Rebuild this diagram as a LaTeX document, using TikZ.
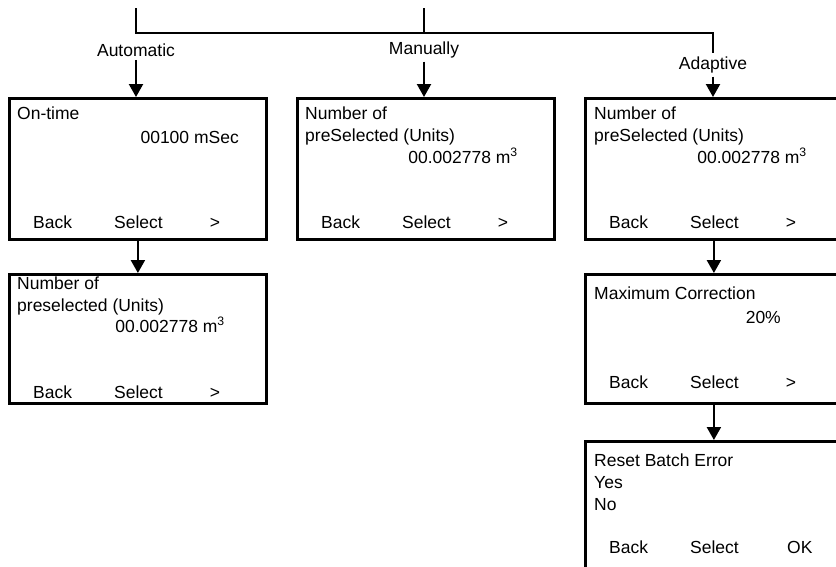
\documentclass[tikz,border=0pt]{standalone}
\usepackage{fontspec}
\setmainfont{Liberation Sans}
\usepackage{tikz}
\usetikzlibrary{arrows.meta, positioning}
\tikzset{
  %% -- display screen (full height) --
  menu/box/.style={
    draw, line width=2.8pt, anchor=north west, inner sep=0pt,
    minimum width=257pt, minimum height=141pt
  },
  %% -- display screen (short) --
  menu/short/.style={menu/box, minimum height=129pt},
  %% -- screen text, left aligned --
  menu/txt/.style={inner sep=0pt, text height=12.5pt, text depth=0pt, anchor=west},
  %% -- screen value, right aligned --
  menu/val/.style={menu/txt, anchor=east},
  %% -- soft key, centred --
  menu/key/.style={menu/txt, anchor=center},
  %% -- branch label --
  menu/lbl/.style={inner sep=0.333em},
  %% -- trunk line --
  menu/line/.style={line width=2.2pt},
  %% -- flow arrow --
  menu/arr/.style={-{Triangle[length=13pt, width=14pt]}, line width=2.2pt},
}

\begin{document}
\begin{tikzpicture}[
  every node/.style={font=\fontsize{17.5pt}{21pt}\selectfont},
  x=1pt, y=-1pt,
]
\useasboundingbox (0,0) rectangle (836,566);
\clip (0,0) rectangle (836,566);

%% Screens
\node[menu/box]   (ontime) at (8, 97) {};
\node[menu/box]   (manu)   at (296, 97) {};
\node[menu/box]   (adapt)  at (584, 97) {};
\node[menu/short] (presel) at (8, 273) {};
\node[menu/short] (maxcor) at (584, 273) {};
\node[menu/box]   (reset)  at (584, 440) {};

%% Branch labels
\node[menu/lbl] (auto) at (136, 50) {Automatic};
\node[menu/lbl] (hand) at (424, 50) {Manually};
\node[menu/lbl] (adap) at (713, 65) {Adaptive};

%% Trunk
\coordinate (topA)   at (136, 8);
\coordinate (topM)   at (424, 8);
\coordinate (splitA) at (136, 33);
\coordinate (splitM) at (424, 33);
\coordinate (splitD) at (713, 33);
\draw[menu/line] (topA) -- (splitA) -- (splitD) -- (adap.north);
\draw[menu/line] (topM) -- (splitM);

%% Arrows into the screens
\draw[menu/arr] (auto.south) -- (auto.south |- ontime.north);
\draw[menu/arr] (hand.south) -- (hand.south |- manu.north);
\draw[menu/arr] (adap.south) -- (adap.south |- adapt.north);
\draw[menu/arr] (ontime.south) -- (presel.north);
\draw[menu/arr] (adapt.south) -- (maxcor.north);
\draw[menu/arr] (maxcor.south) -- (reset.north);

%% On-time screen
\node[menu/txt] (ontime1) at ([shift={(9,16)}]ontime.north west) {On-time};
\node[menu/val] (ontime2) at ([shift={(231,40)}]ontime.north west) {00100 mSec};
\node[menu/txt] (ontimeB) at ([shift={(25,125)}]ontime.north west) {Back};
\node[menu/txt] (ontimeS) at ([shift={(106,125)}]ontime.north west) {Select};
\node[menu/key] (ontimeN) at ([shift={(207,125)}]ontime.north west) {>};

%% Manual screen
\node[menu/txt] (manu1) at ([shift={(9,16)}]manu.north west) {Number of};
\node[menu/txt] (manu2) at ([shift={(9,38)}]manu.north west) {preSelected (Units)};
\node[menu/val] (manu3) at ([shift={(222,60)}]manu.north west) {00.002778 m\textsuperscript{3}};
\node[menu/txt] (manuB) at ([shift={(25,125)}]manu.north west) {Back};
\node[menu/txt] (manuS) at ([shift={(106,125)}]manu.north west) {Select};
\node[menu/key] (manuN) at ([shift={(207,125)}]manu.north west) {>};

%% Adaptive screen
\node[menu/txt] (adapt1) at ([shift={(10,16)}]adapt.north west) {Number of};
\node[menu/txt] (adapt2) at ([shift={(10,38)}]adapt.north west) {preSelected (Units)};
\node[menu/val] (adapt3) at ([shift={(223,60)}]adapt.north west) {00.002778 m\textsuperscript{3}};
\node[menu/txt] (adaptB) at ([shift={(25,125)}]adapt.north west) {Back};
\node[menu/txt] (adaptS) at ([shift={(106,125)}]adapt.north west) {Select};
\node[menu/key] (adaptN) at ([shift={(207,125)}]adapt.north west) {>};

%% Preselected screen
\node[menu/txt] (presel1) at ([shift={(9,10)}]presel.north west) {Number of};
\node[menu/txt] (presel2) at ([shift={(9,32)}]presel.north west) {preselected (Units)};
\node[menu/val] (presel3) at ([shift={(217,53)}]presel.north west) {00.002778 m\textsuperscript{3}};
\node[menu/txt] (preselB) at ([shift={(25,119)}]presel.north west) {Back};
\node[menu/txt] (preselS) at ([shift={(106,119)}]presel.north west) {Select};
\node[menu/key] (preselN) at ([shift={(207,119)}]presel.north west) {>};

%% Maximum correction screen
\node[menu/txt] (maxcor1) at ([shift={(10,20)}]maxcor.north west) {Maximum Correction};
\node[menu/val] (maxcor2) at ([shift={(197,44)}]maxcor.north west) {20\%};
\node[menu/txt] (maxcorB) at ([shift={(25,109)}]maxcor.north west) {Back};
\node[menu/txt] (maxcorS) at ([shift={(106,109)}]maxcor.north west) {Select};
\node[menu/key] (maxcorN) at ([shift={(207,109)}]maxcor.north west) {>};

%% Reset screen
\node[menu/txt] (reset1) at ([shift={(10,20)}]reset.north west) {Reset Batch Error};
\node[menu/txt] (reset2) at ([shift={(10,42)}]reset.north west) {Yes};
\node[menu/txt] (reset3) at ([shift={(10,64)}]reset.north west) {No};
\node[menu/txt] (resetB) at ([shift={(25,107)}]reset.north west) {Back};
\node[menu/txt] (resetS) at ([shift={(106,107)}]reset.north west) {Select};
\node[menu/txt] (resetK) at ([shift={(203,107)}]reset.north west) {OK};
\end{tikzpicture}
\end{document}
